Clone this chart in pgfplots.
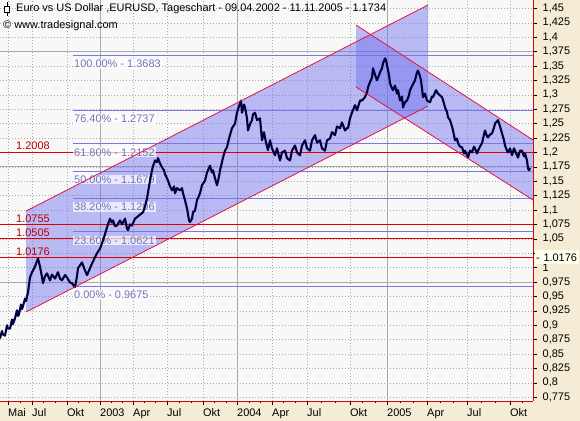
\documentclass[border=0pt]{standalone}
\usepackage{fontspec}
\setmainfont{Liberation Sans}
\usepackage{pgfplots}
\usepackage{pgfplotstable}
\pgfplotsset{compat=1.18}
\definecolor{beige}{RGB}{245,236,214}
\definecolor{plotbg}{RGB}{248,248,248}
\definecolor{fibc}{RGB}{120,120,225}
\definecolor{fibtext}{RGB}{115,115,190}
\definecolor{lvl}{RGB}{220,0,0}
\definecolor{lvltext}{RGB}{185,0,0}
\definecolor{chan}{RGB}{225,20,70}
\definecolor{chfill}{RGB}{110,110,240}
\definecolor{price}{RGB}{0,0,60}
\definecolor{gridc}{RGB}{170,170,170}
\definecolor{solidgrid}{RGB}{165,172,165}

\pgfplotstableread{
x v
0 0.877
2 0.890
3 0.884
5 0.882
7 0.900
8 0.894
10 0.894
12 0.910
13 0.902
15 0.912
17 0.926
18 0.916
19 0.919
21 0.936
22 0.928
23 0.933
25 0.946
26 0.942
28 0.957
30 0.983
32 0.992
33 0.995
35 1.002
38 1.016
40 1.002
42 0.983
43 0.973
45 0.985
47 0.990
50 0.978
52 0.988
55 0.981
58 0.992
60 0.981
62 0.978
65 0.987
67 0.983
70 0.974
72 0.973
75 0.966
77 0.985
78 0.999
80 1.004
82 1.009
85 0.995
87 0.987
90 0.999
92 1.007
95 1.018
97 1.025
100 1.033
103 1.047
105 1.058
107 1.070
110 1.085
112 1.078
113 1.082
115 1.072
117 1.073
120 1.082
122 1.075
125 1.085
127 1.068
128 1.065
130 1.075
132 1.073
135 1.085
138 1.089
140 1.092
143 1.096
145 1.106
147 1.120
149 1.141
150 1.151
152 1.169
153 1.176
155 1.186
157 1.183
158 1.190
160 1.181
162 1.174
164 1.169
165 1.162
167 1.155
168 1.151
170 1.141
172 1.134
174 1.141
175 1.129
177 1.138
180 1.134
182 1.138
183 1.129
185 1.117
187 1.103
189 1.082
190 1.079
192 1.085
193 1.096
195 1.099
197 1.117
200 1.129
202 1.143
205 1.151
207 1.165
210 1.177
212 1.165
213 1.169
215 1.155
217 1.143
219 1.158
220 1.169
222 1.183
223 1.191
225 1.203
227 1.209
229 1.224
232 1.242
235 1.250
237 1.269
239 1.280
240 1.285
241 1.290
242 1.269
244 1.283
245 1.278
247 1.259
248 1.238
250 1.249
252 1.256
253 1.266
255 1.269
257 1.256
260 1.259
262 1.221
264 1.235
266 1.217
268 1.204
270 1.221
272 1.207
275 1.195
277 1.207
280 1.186
282 1.200
285 1.203
287 1.190
290 1.186
292 1.203
295 1.212
297 1.200
300 1.195
302 1.212
305 1.221
307 1.207
310 1.203
312 1.221
315 1.230
317 1.217
320 1.221
322 1.207
325 1.203
327 1.221
330 1.224
332 1.235
335 1.230
337 1.245
340 1.242
342 1.252
345 1.238
347 1.242
348 1.242
350 1.259
352 1.269
355 1.282
357 1.273
360 1.290
362 1.290
365 1.296
367 1.304
368 1.313
370 1.322
372 1.330
373 1.346
375 1.335
377 1.325
379 1.334
380 1.339
382 1.346
383 1.355
385 1.363
386 1.360
387 1.351
389 1.334
390 1.320
392 1.311
393 1.308
395 1.316
397 1.302
398 1.308
400 1.290
402 1.297
403 1.278
405 1.287
407 1.290
409 1.299
410 1.308
412 1.315
415 1.325
417 1.339
418 1.342
420 1.332
421 1.325
423 1.296
425 1.302
427 1.290
430 1.287
432 1.297
433 1.296
435 1.304
436 1.308
438 1.302
440 1.299
442 1.296
444 1.285
445 1.278
447 1.270
448 1.261
450 1.256
452 1.245
453 1.238
455 1.221
457 1.224
458 1.216
460 1.210
462 1.209
464 1.198
465 1.203
467 1.195
468 1.191
470 1.203
472 1.200
474 1.210
475 1.207
477 1.198
478 1.203
480 1.210
482 1.216
484 1.231
485 1.238
487 1.228
488 1.226
490 1.231
492 1.233
494 1.243
495 1.250
497 1.254
498 1.256
500 1.245
502 1.233
504 1.221
505 1.212
507 1.203
508 1.200
510 1.207
512 1.195
514 1.207
515 1.203
517 1.195
518 1.191
520 1.203
522 1.203
524 1.193
525 1.198
527 1.186
528 1.172
529 1.169
530 1.1734
}\price

\tikzset{fiblab/.style={anchor=base west, inner sep=1bp, fill=white, fill opacity=0.7, text opacity=1, text=fibtext, font=\fontsize{11}{13}\selectfont, yshift=-12.5bp},
  redlab/.style={anchor=base west, inner sep=0bp, text=lvltext, font=\fontsize{11}{13}\selectfont, yshift=2bp}}

\begin{document}
\begin{tikzpicture}
\path[use as bounding box, fill=beige] (0bp,0bp) rectangle (580bp,421bp);
\fill[plotbg] (0bp,20bp) rectangle (533bp,421bp);
\begin{axis}[
  at={(0bp,20bp)}, anchor=south west,
  scale only axis, width=533bp, height=401bp,
  xmin=0, xmax=533, ymin=0.7685, ymax=1.4645,
  axis x line*=bottom, axis y line*=right,
  axis line style={-, lvl, line width=0.9pt},
  tick align=outside,
  tick style={black, line width=0.5pt},
  major tick length=3.5bp, minor tick length=2bp,
  xtick={8,32,67,100,133,167,203,237,272,307,350,387,427,467,510},
  xticklabels={Mai,Jul,Okt,2003,Apr,Jul,Okt,2004,Apr,Jul,Okt,2005,Apr,Jul,Okt},
  minor xtick={20,43,55,78,89,111,122,144,155,179,191,214,226,249,260,283,295,321,335,362,375,400,413,440,453,481,495,522},
  ytick={0.775,0.8,0.825,0.85,0.875,0.9,0.925,0.95,0.975,1,1.05,1.075,1.1,1.125,1.15,1.175,1.2,1.225,1.25,1.275,1.3,1.325,1.35,1.375,1.4,1.425,1.45},
  extra y ticks={1.025}, extra y tick labels={},
  minor y tick num=4,
  yticklabel pos=right,
  /pgf/number format/assume math mode=true,
  yticklabel style={/pgf/number format/fixed, /pgf/number format/precision=3, /pgf/number format/use comma, anchor=west, inner sep=0pt, xshift=6bp},
  xticklabel style={anchor=north west, inner sep=0pt, yshift=-4bp},
  ticklabel style={font=\fontsize{11}{13}\selectfont, text=black},
  xmajorgrids, ymajorgrids,
  major grid style={gridc, dash pattern=on 1bp off 2bp, line width=0.5pt},
  clip=true,
]
% solid grid lines
\addplot[solidgrid, line width=0.6pt] coordinates {(0,0.975) (533,0.975)};
\addplot[solidgrid, line width=0.6pt] coordinates {(0,1.175) (533,1.175)};
\addplot[solidgrid, line width=0.6pt] coordinates {(0,1.375) (533,1.375)};
\addplot[solidgrid, line width=0.6pt] coordinates {(100,0.7685) (100,1.4645)};
\addplot[solidgrid, line width=0.6pt] coordinates {(237,0.7685) (237,1.4645)};
\addplot[solidgrid, line width=0.6pt] coordinates {(387,0.7685) (387,1.4645)};
% channel fills
\addplot[fill=chfill, fill opacity=0.45, draw=none] coordinates {(26,1.0982) (428,1.4558) (428,1.2805) (26,0.9229)} -- cycle;
\addplot[fill=chfill, fill opacity=0.45, draw=none] coordinates {(356,1.4211) (533,1.2215) (533,1.1173) (356,1.3135)} -- cycle;
% fibonacci levels
\addplot[fibc, line width=0.7pt] coordinates {(73,0.9675) (533,0.9675)};
\addplot[fibc, line width=0.7pt] coordinates {(73,1.0621) (533,1.0621)};
\addplot[fibc, line width=0.7pt] coordinates {(73,1.1206) (533,1.1206)};
\addplot[fibc, line width=0.7pt] coordinates {(73,1.1679) (533,1.1679)};
\addplot[fibc, line width=0.7pt] coordinates {(73,1.2152) (533,1.2152)};
\addplot[fibc, line width=0.7pt] coordinates {(73,1.2737) (533,1.2737)};
\addplot[fibc, line width=0.7pt] coordinates {(73,1.3683) (533,1.3683)};
% red levels
\addplot[lvl, line width=0.8pt] coordinates {(0,1.0176) (533,1.0176)};
\addplot[lvl, line width=0.8pt] coordinates {(0,1.0505) (533,1.0505)};
\addplot[lvl, line width=0.8pt] coordinates {(0,1.0755) (533,1.0755)};
\addplot[lvl, line width=0.8pt] coordinates {(0,1.2008) (533,1.2008)};
% fib labels
\node[fiblab] at (axis cs:73,0.9675) {0.00\% - 0.9675};
\node[fiblab] at (axis cs:73,1.0621) {23.60\% - 1.0621};
\node[fiblab] at (axis cs:73,1.1206) {38.20\% - 1.1206};
\node[fiblab] at (axis cs:73,1.1679) {50.00\% - 1.1679};
\node[fiblab] at (axis cs:73,1.2152) {61.80\% - 1.2152};
\node[fiblab] at (axis cs:73,1.2737) {76.40\% - 1.2737};
\node[fiblab] at (axis cs:73,1.3683) {100.00\% - 1.3683};
% red level labels
\node[redlab] at (axis cs:16,1.0176) {1.0176};
\node[redlab] at (axis cs:16,1.0505) {1.0505};
\node[redlab] at (axis cs:16,1.0755) {1.0755};
\node[redlab] at (axis cs:16,1.2008) {1.2008};
% price
\addplot[price, line width=2.1pt, line join=round] table[x=x, y=v] {\price};
% channel lines
\addplot[chan, line width=0.8pt] coordinates {(26,1.0982) (428,1.4558)};
\addplot[chan, line width=0.8pt] coordinates {(26,0.9229) (428,1.2805)};
\addplot[chan, line width=0.8pt] coordinates {(356,1.4211) (533,1.2215)};
\addplot[chan, line width=0.8pt] coordinates {(356,1.3135) (533,1.1173)};
\coordinate (L1) at (axis cs:533,1.0176);
\end{axis}
% last value box on right axis
\node[anchor=west, fill={rgb,255:red,255;green,255;blue,238}, inner sep=1bp, minimum height=14bp, text width=42bp, font=\fontsize{11}{13}\selectfont, xshift=2bp] at (L1) {- 1.0176};
% title
\draw[black, line width=0.6pt] (7bp,405bp) -- (7bp,419bp);
\fill[white, draw=black, line width=0.6pt] (4.5bp,409bp) rectangle (9.5bp,415bp);
\node[anchor=base west, inner sep=0pt, font=\fontsize{11}{13}\selectfont] at (16bp,409bp) {Euro vs US Dollar ,EURUSD, Tageschart - 09.04.2002 - 11.11.2005 - 1.1734};
\node[anchor=base west, inner sep=0pt, font=\fontsize{11}{13}\selectfont] at (3bp,392bp) {\textcopyright\ www.tradesignal.com};
\end{tikzpicture}
\end{document}
